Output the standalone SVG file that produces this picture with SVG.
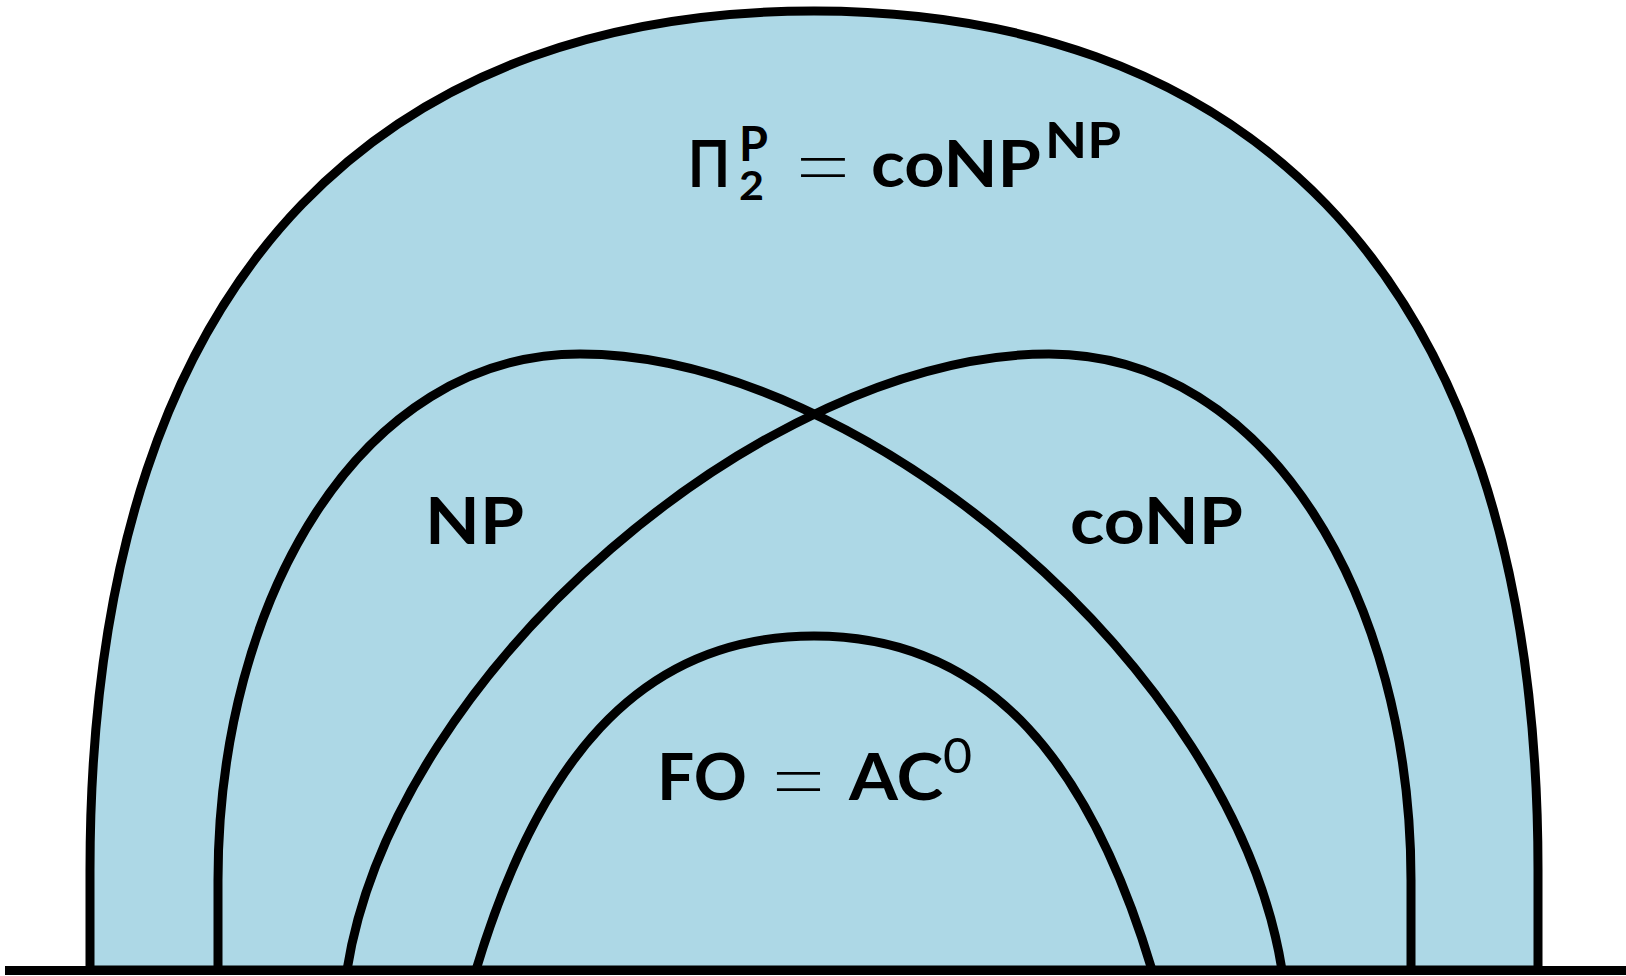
<svg xmlns="http://www.w3.org/2000/svg" width="1626" height="976" viewBox="0 0 1626 976">
<style>
.region{fill:none;stroke:#000;stroke-width:9;stroke-linejoin:round}
.fill{fill:#ADD8E6}
.b{font-family:Lato,"Open Sans","DejaVu Sans",sans-serif;font-weight:700;font-size:65px;fill:#000}
.r{font-family:Lato,"Open Sans","DejaVu Sans",sans-serif;font-weight:400;fill:#000}
.m{font-family:Lato,"Open Sans","DejaVu Sans",sans-serif;font-weight:700;fill:#000}
.eq{font-family:"Liberation Sans",Arial,sans-serif;font-size:64px;fill:#000;stroke:#ADD8E6;stroke-width:1.8}
</style>
<rect width="1626" height="976" fill="#ffffff"/>
<g id="pi2p">
<path class="region fill" d="M 90 970 L 90 870 C 90 240 414 11 814 11 C 1214 11 1538 240 1538 870 L 1538 970 Z"/>
<text class="b" x="688" y="186.7" textLength="42" lengthAdjust="spacingAndGlyphs">Π</text>
<text class="m" x="739" y="160.7" font-size="47" textLength="29" lengthAdjust="spacingAndGlyphs">P</text>
<text class="m" x="739" y="200" font-size="40" textLength="25" lengthAdjust="spacingAndGlyphs">2</text>
<text class="eq" x="795" y="188.5" textLength="56" lengthAdjust="spacingAndGlyphs">=</text>
<text class="b" x="871" y="186.7" textLength="170" lengthAdjust="spacingAndGlyphs">coNP</text>
<text class="m" x="1045" y="157.6" font-size="49" textLength="76" lengthAdjust="spacingAndGlyphs">NP</text>
</g>
<g id="np">
<path class="region" d="M 218 970 L 218 880 C 218 600 360 354 580 354 C 860 354 1234 668 1282 970"/>
<text class="b" x="425" y="543.5" textLength="99" lengthAdjust="spacingAndGlyphs">NP</text>
</g>
<g id="conp">
<path class="region" d="M 347 970 C 395 668 769 354 1049 354 C 1269 354 1411 600 1411 880 L 1411 970"/>
<text class="b" x="1070" y="543.5" textLength="173" lengthAdjust="spacingAndGlyphs">coNP</text>
</g>
<g id="fo">
<path class="region" d="M 476 970 C 536 770 634 636 814 636 C 994 636 1092 770 1152 970"/>
<text class="b" x="657" y="800" textLength="90" lengthAdjust="spacingAndGlyphs">FO</text>
<text class="eq" x="771" y="802.5" textLength="55" lengthAdjust="spacingAndGlyphs">=</text>
<text class="b" x="849" y="800" textLength="94" lengthAdjust="spacingAndGlyphs">AC</text>
<text class="r" x="943" y="772.6" font-size="48" textLength="29" lengthAdjust="spacingAndGlyphs">0</text>
</g>
<g id="connectors">
<line x1="5" y1="970.5" x2="1626" y2="970.5" stroke="#000" stroke-width="9"/>
</g>
</svg>
